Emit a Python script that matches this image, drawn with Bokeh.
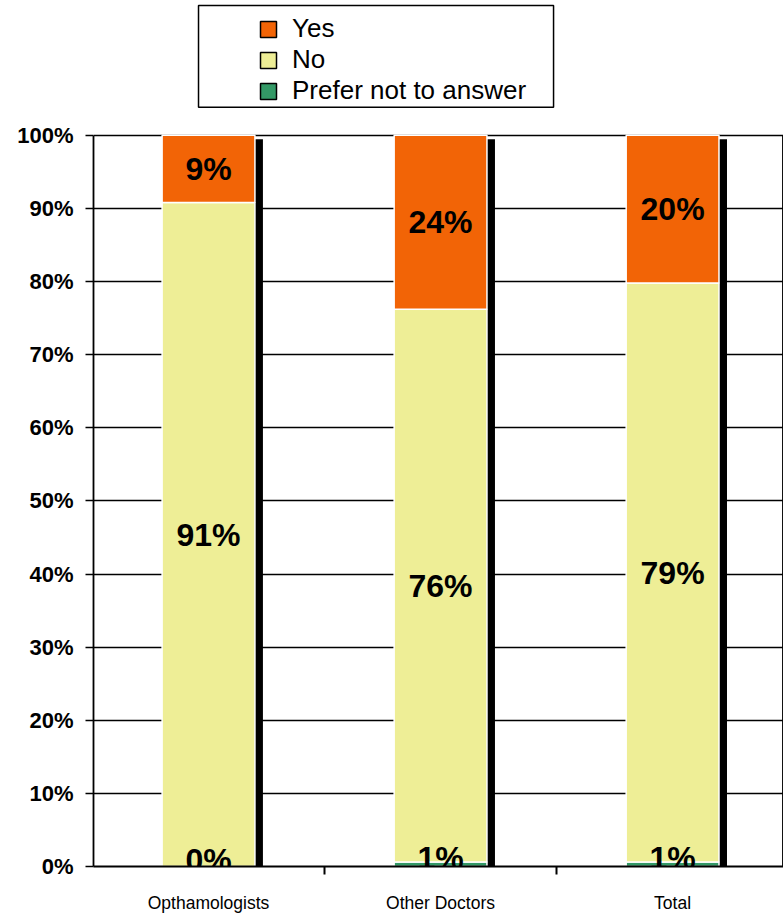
from bokeh.plotting import figure
from bokeh.models import (Range1d, FixedTicker, PrintfTickFormatter, ColumnDataSource,
                          LabelSet, Legend, LegendItem, BoxAnnotation)
from bokeh.transform import dodge
from bokeh.core.properties import value
from bokeh.embed import file_html
from bokeh.resources import INLINE

# ---- data ----
categories = ["Opthamologists", "Other Doctors", "Total"]
yes = [9.2, 23.8, 20.2]
no = [90.8, 75.6, 79.2]
prefer = [0.0, 0.6, 0.6]
y_ticks = [0, 10, 20, 30, 40, 50, 60, 70, 80, 90, 100]

YES_C = "#F26406"
NO_C = "#EEEE96"
PREF_C = "#339966"
FONT = "Liberation Sans"

xpos = list(range(len(categories)))
top_no = [p + n for p, n in zip(prefer, no)]
top_yes = [t + y for t, y in zip(top_no, yes)]

src = ColumnDataSource(dict(
    x=xpos, prefer_b=[0] * 3, prefer_t=prefer, no_b=prefer, no_t=top_no,
    yes_b=top_no, yes_t=top_yes,
    sh_t=[t - 0.55 for t in top_yes], sh_b=[-2] * 3,
))

p = figure(width=783, height=915, x_range=Range1d(-0.4957, 2.478), y_range=Range1d(0, 118.44),
           output_backend="svg", toolbar_location=None,
           min_border_left=93, min_border_right=0, min_border_top=0, min_border_bottom=48)
p.outline_line_color = None
p.background_fill_color = "white"
p.xgrid.visible = False

# grid / axes
yt = FixedTicker(ticks=y_ticks)
p.yaxis.ticker = yt
p.ygrid.ticker = yt
p.ygrid.grid_line_color = "black"
p.ygrid.grid_line_width = 1.6
p.yaxis.bounds = (0, 100)
p.yaxis.formatter = PrintfTickFormatter(format="%d%%")
p.yaxis.axis_line_color = "black"
p.yaxis.axis_line_width = 1.8
p.yaxis.major_tick_out = 8
p.yaxis.major_tick_in = 0
p.yaxis.major_tick_line_width = 1.6
p.yaxis.minor_tick_line_color = None
p.yaxis.major_label_standoff = 12
p.yaxis.major_label_text_font = FONT
p.yaxis.major_label_text_font_style = "bold"
p.yaxis.major_label_text_font_size = "22px"
p.yaxis.major_label_text_color = "black"

p.xaxis.ticker = FixedTicker(ticks=xpos, minor_ticks=[0.5, 1.5, 2.5])
p.xaxis.major_label_overrides = {i: c for i, c in zip(xpos, categories)}
p.xaxis.axis_line_color = "black"
p.xaxis.axis_line_width = 2
p.xaxis.major_tick_line_color = None
p.xaxis.major_tick_out = 0
p.xaxis.major_tick_in = 0
p.xaxis.minor_tick_out = 8
p.xaxis.minor_tick_in = 0
p.xaxis.minor_tick_line_color = "black"
p.xaxis.minor_tick_line_width = 2
p.xaxis.major_label_standoff = 18
p.xaxis.major_label_text_font = FONT
p.xaxis.major_label_text_font_size = "17.5px"
p.xaxis.major_label_text_color = "black"

# shadows
p.vbar(x=dodge("x", 0.0345, range=p.x_range), top="sh_t", bottom="sh_b", width=0.4,
       source=src, fill_color="black", line_color=None)

# stacked bars
for b, t, c in [("prefer_b", "prefer_t", PREF_C), ("no_b", "no_t", NO_C), ("yes_b", "yes_t", YES_C)]:
    p.vbar(x="x", bottom=b, top=t, width=0.4, source=src, fill_color=c,
           line_color="white", line_width=1.5)

# data labels
lx, ly, lt = [], [], []
for i in xpos:
    for b, v in [(0, prefer[i]), (top_no[i] - no[i], no[i]), (top_no[i], yes[i])]:
        lx.append(i)
        ly.append(b + v / 2 + (0.9 if v < 2 else 0))
        lt.append(f"{round(v)}%")
lsrc = ColumnDataSource(dict(x=lx, y=ly, text=lt))
p.add_layout(LabelSet(x="x", y="y", text="text", source=lsrc, text_align="center",
                      text_baseline="middle", text_font=value(FONT),
                      text_font_size=value("32px"), text_font_style="bold",
                      text_color="black"))

# legend swatches: same bars shifted far outside the visible x range
leg_r = []
for c in [YES_C, NO_C, PREF_C]:
    leg_r.append(p.vbar(x=dodge("x", 20, range=p.x_range), top="yes_t", width=0.4, source=src,
                        fill_color=c, line_color="black", line_width=1.5))
legend = Legend(items=[LegendItem(label="Yes", renderers=[leg_r[0]]),
                       LegendItem(label="No", renderers=[leg_r[1]]),
                       LegendItem(label="Prefer not to answer", renderers=[leg_r[2]])],
                location=(165, 760), border_line_color=None, background_fill_alpha=0,
                padding=0, margin=0, glyph_width=20, glyph_height=20, label_standoff=14,
                spacing=-3, label_text_font=FONT, label_text_font_size="26px",
                label_text_color="black")
p.add_layout(legend, "center")

p.add_layout(BoxAnnotation(left=-0.0431, right=1.487, top=117.76, bottom=103.83,
                           fill_alpha=0, line_color="black", line_width=1.5,
                           line_alpha=1))

open("out.html", "w").write(file_html(p, INLINE))
